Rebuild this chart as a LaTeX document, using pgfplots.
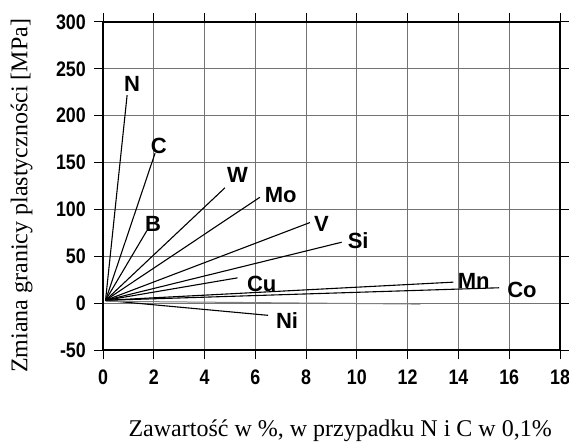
\documentclass[border=0pt]{standalone}
\usepackage{fontspec}
\setmainfont{Liberation Serif}
\newfontfamily\sansb{Liberation Sans Bold}
\newfontfamily\tickf{Liberation Sans Bold}[FakeStretch=0.85]
\usepackage{pgfplots}
\pgfplotsset{compat=1.18}
\begin{document}
\begin{tikzpicture}[x=1pt,y=1pt]
\useasboundingbox (0,0) rectangle (569,444);
\begin{axis}[at={(103pt,94pt)}, anchor=south west, scale only axis,
  width=457pt, height=328pt,
  xmin=0, xmax=18, ymin=-50, ymax=300,
  xtick={0,2,...,18}, ytick={-50,0,...,300},
  grid=major, major grid style={black!55, line width=0.8pt},
  axis line style={line width=1.6pt},
  tick style={black, line width=1pt}, tick align=outside, major tick length=9pt,
  /pgf/number format/assume math mode=true,
  ticklabel style={font=\tickf\fontsize{21}{21}\selectfont, inner sep=0pt},
  xticklabel style={yshift=-11pt},
  yticklabel style={xshift=-8pt},
  xlabel={Zawartość w \%, w przypadku N i C w 0,1\%},
  ylabel={Zmiana granicy plastyczności [MPa]},
  label style={font=\fontsize{24}{24}\selectfont},
  xlabel style={at={(axis description cs:0.519,-0.245)}, anchor=center},
  ylabel style={at={(axis description cs:-0.178,0.47)}, anchor=center},
  clip=false]
\addplot[black, line width=1.1pt] coordinates {(0.1,3) (0.95,222)};
\addplot[black, line width=1.1pt] coordinates {(0.1,3) (2.05,160)};
\addplot[black, line width=1.1pt] coordinates {(0.1,3) (1.72,77)};
\addplot[black, line width=1.1pt] coordinates {(0.1,3) (4.8,123)};
\addplot[black, line width=1.1pt] coordinates {(0.1,3) (6.18,113)};
\addplot[black, line width=1.1pt] coordinates {(0.1,3) (8.15,86)};
\addplot[black, line width=1.1pt] coordinates {(0.1,3) (9.4,65)};
\addplot[black, line width=1.1pt] coordinates {(0.1,3) (5.3,27)};
\addplot[black, line width=1.1pt] coordinates {(0.1,3) (13.8,22.4)};
\addplot[black, line width=1.1pt] coordinates {(0.1,3) (15.6,16.4)};
\addplot[black, line width=1.1pt] coordinates {(0.1,3) (6.5,-13)};
\addplot[black!50, line width=1pt] coordinates {(0.1,2) (12.5,-1)};
\begin{scope}[every node/.style={font=\sansb\fontsize{22}{22}\selectfont}]
\node at (axis cs:1.14,234) {N};
\node at (axis cs:2.2,168) {C};
\node at (axis cs:1.97,85) {B};
\node at (axis cs:5.3,137) {W};
\node at (axis cs:7.0,115) {Mo};
\node at (axis cs:8.6,84) {V};
\node at (axis cs:10.05,67) {Si};
\node at (axis cs:6.25,20) {Cu};
\node at (axis cs:14.6,23.5) {Mn};
\node at (axis cs:16.5,13.9) {Co};
\node at (axis cs:7.25,-19) {Ni};
\end{scope}
\end{axis}
\end{tikzpicture}
\end{document}
